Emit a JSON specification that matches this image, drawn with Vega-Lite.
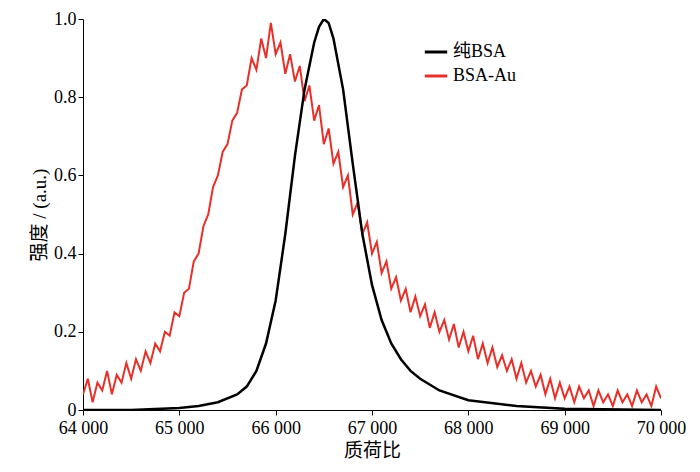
{"$schema":"https://vega.github.io/schema/vega-lite/v6.json","width":700,"height":472,"autosize":{"type":"fit","contains":"padding"},"padding":{"left":30,"top":10,"right":14,"bottom":12},
"config":{"view":{"stroke":null},"font":"Liberation Serif, Noto Sans CJK SC","axis":{"grid":false,"domainColor":"#000","tickColor":"#000","labelColor":"#000","titleColor":"#000","labelFontSize":18,"titleFontSize":19,"titleFontWeight":"normal","labelFont":"Liberation Serif","titleFont":"Liberation Serif, Noto Sans CJK SC"}},
"datasets":{"b":[[64000,0],[64500,0],[65000,0.005],[65200,0.01],[65400,0.02],[65600,0.04],[65700,0.06],[65800,0.1],[65900,0.17],[66000,0.28],[66100,0.45],[66200,0.65],[66300,0.82],[66400,0.94],[66450,0.98],[66500,1.0],[66550,0.99],[66600,0.95],[66700,0.82],[66800,0.63],[66900,0.45],[67000,0.32],[67100,0.23],[67200,0.17],[67300,0.13],[67400,0.1],[67500,0.08],[67700,0.05],[68000,0.025],[68500,0.01],[69000,0.003],[70000,0]],
"r":[[64000,0.04],[64050,0.08],[64100,0.02],[64150,0.07],[64200,0.05],[64250,0.1],[64300,0.04],[64350,0.09],[64400,0.07],[64450,0.12],[64500,0.08],[64550,0.13],[64600,0.1],[64650,0.15],[64700,0.12],[64750,0.17],[64800,0.15],[64850,0.2],[64900,0.19],[64950,0.25],[65000,0.24],[65050,0.3],[65100,0.31],[65150,0.38],[65200,0.4],[65250,0.47],[65300,0.5],[65350,0.57],[65400,0.6],[65450,0.66],[65500,0.68],[65550,0.74],[65600,0.76],[65650,0.82],[65700,0.83],[65750,0.9],[65800,0.87],[65850,0.95],[65900,0.9],[65950,0.99],[66000,0.91],[66050,0.94],[66100,0.86],[66150,0.91],[66200,0.84],[66250,0.88],[66300,0.79],[66350,0.83],[66400,0.74],[66450,0.78],[66500,0.68],[66550,0.72],[66600,0.63],[66650,0.66],[66700,0.57],[66750,0.6],[66800,0.5],[66850,0.53],[66900,0.45],[66950,0.48],[67000,0.4],[67050,0.43],[67100,0.35],[67150,0.38],[67200,0.31],[67250,0.34],[67300,0.28],[67350,0.31],[67400,0.25],[67450,0.29],[67500,0.24],[67550,0.27],[67600,0.21],[67650,0.25],[67700,0.2],[67750,0.23],[67800,0.18],[67850,0.22],[67900,0.16],[67950,0.2],[68000,0.15],[68050,0.19],[68100,0.13],[68150,0.17],[68200,0.12],[68250,0.16],[68300,0.11],[68350,0.14],[68400,0.1],[68450,0.13],[68500,0.08],[68550,0.12],[68600,0.07],[68650,0.1],[68700,0.06],[68750,0.09],[68800,0.04],[68850,0.08],[68900,0.03],[68950,0.07],[69000,0.03],[69050,0.06],[69100,0.02],[69150,0.06],[69200,0.03],[69250,0.05],[69300,0.01],[69350,0.05],[69400,0.02],[69450,0.04],[69500,0.01],[69550,0.05],[69600,0.02],[69650,0.04],[69700,0.01],[69750,0.05],[69800,0.02],[69850,0.04],[69900,0.01],[69950,0.06],[70000,0.03]]},
"layer":[
{"data":{"name":"r"},"transform":[{"calculate":"'BSA-Au'","as":"s"}],"mark":{"type":"line","strokeWidth":2,"clip":true},"encoding":{"x":{"field":"0","type":"quantitative"},"y":{"field":"1","type":"quantitative"},"color":{"field":"s"}}},
{"data":{"name":"b"},"transform":[{"calculate":"'纯BSA'","as":"s"}],"mark":{"type":"line","strokeWidth":2.5,"clip":true},"encoding":{"x":{"field":"0","type":"quantitative","scale":{"domain":[64000,70000],"nice":false},"axis":{"title":"质荷比","tickCount":6,"labelExpr":"replace(format(datum.value,',d'),',',' ')","labelFlush":false,"labelPadding":4,"titlePadding":4}},"y":{"field":"1","type":"quantitative","scale":{"domain":[0,1]},"axis":{"title":"强度 / (a.u.)","tickCount":5,"labelExpr":"datum.value==0?'0':format(datum.value,'.1f')"}},"color":{"field":"s","type":"nominal","scale":{"domain":["纯BSA","BSA-Au"],"range":["#000000","#e8302a"]},"legend":{"title":null,"orient":"none","legendX":340,"legendY":20,"labelFontSize":18,"labelFont":"Liberation Serif, Noto Sans CJK SC","symbolType":"stroke","symbolStrokeWidth":3,"symbolSize":500,"labelColor":"#000"}}}}
]}
